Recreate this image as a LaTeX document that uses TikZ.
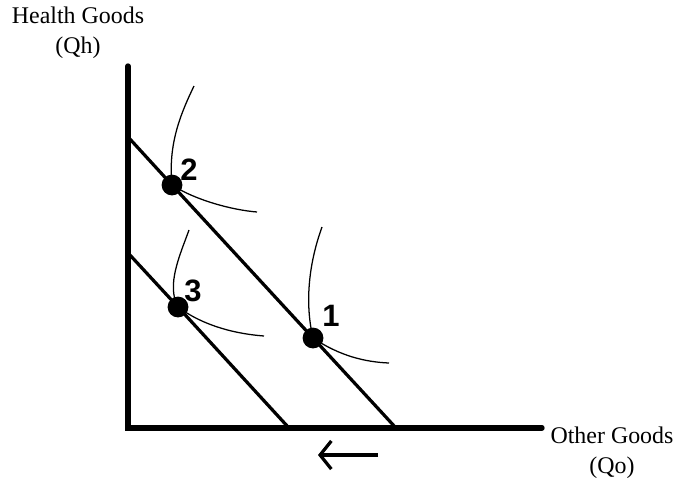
\documentclass[tikz,border=0pt]{standalone}
\usepackage{fontspec}
\setmainfont{Liberation Serif}
\newfontfamily\numfont{Liberation Sans}
\usepackage{tikz}
\usetikzlibrary{arrows.meta, positioning}

\begin{document}
\begin{tikzpicture}[
  x=0.025cm, y=-0.025cm,
  axis/.style={line width=3.8pt, black, line cap=round},
  budget/.style={line width=2.3pt, black},
  indiff/.style={line width=0.9pt, black},
  dot/.style={circle, fill=black, minimum size=0.52cm, inner sep=0pt},
  num/.style={font=\numfont\bfseries\fontsize{22}{24}\selectfont},
  lab/.style={align=center, font=\fontsize{17}{21}\selectfont},
  shiftarrow/.style={-{Straight Barb[length=8pt, width=20pt, line width=2.3pt]}, line width=2.4pt}
]
\useasboundingbox (0,0) rectangle (676,481);

% axes
\coordinate (origin) at (128,428);
\coordinate (ytop) at (128,66);
\coordinate (xend) at (542,428);
\draw[axis] (ytop) -- (origin) -- (xend);

\node[lab] (ylab) at (78,33) {Health Goods\\(Qh)};
\node[lab] (xlab) at (612,453) {Other Goods\\(Qo)};

% budget lines
\coordinate (c2) at (172,185);
\coordinate (c1) at (313,338);
\coordinate (c3) at (178,307);
\draw[budget] (129,138) -- (c2) -- (c1) -- (396,428);
\draw[budget] (129,254) -- (c3) -- (289,428);

% indifference curves
\draw[indiff] (194,86) .. controls (180,115) and (168,145) .. (c2)
  .. controls (195,200) and (232,210) .. (257,212);
\draw[indiff] (322,227) .. controls (310,260) and (304,300) .. (c1)
  .. controls (340,356) and (365,362) .. (389,363);
\draw[indiff] (189,230) .. controls (180,255) and (166,285) .. (c3)
  .. controls (205,327) and (238,334) .. (264,336);

% bundles
\node[dot] (p1) at (c1) {};
\node[dot] (p2) at (c2) {};
\node[dot] (p3) at (c3) {};
\node[num] (n1) at (331,316) {1};
\node[num] (n2) at (189,170) {2};
\node[num] (n3) at (193,291) {3};

% shift of budget line
\coordinate (a1) at (378,455);
\coordinate (a2) at (318,455);
\draw[shiftarrow] (a1) -- (a2);

\end{tikzpicture}
\end{document}
